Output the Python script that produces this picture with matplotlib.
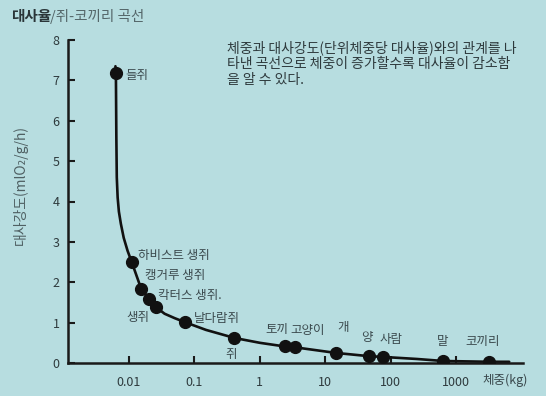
import numpy as np
import matplotlib
matplotlib.use("Agg")
import matplotlib.pyplot as plt

plt.rcParams['font.family'] = ['Noto Sans CJK KR', 'DejaVu Sans']

# 곡선
curve_x = [0.0062, 0.0063, 0.0064, 0.0065, 0.0067, 0.0070, 0.0075, 0.0083, 0.0095, 0.011,
           0.0154, 0.0205, 0.0255, 0.035, 0.05, 0.072, 0.15, 0.41, 1.0, 2.4, 3.4,
           14.5, 46, 77, 250, 635, 3200, 6500]
curve_y = [7.35, 7.18, 5.6, 4.6, 4.1, 3.75, 3.45, 3.1, 2.78, 2.5,
           1.83, 1.58, 1.39, 1.22, 1.11, 1.01, 0.82, 0.62, 0.5, 0.41, 0.39,
           0.25, 0.17, 0.15, 0.1, 0.05, 0.03, 0.03]

# 동물 점
animals = ['들쥐', '하비스트 생쥐', '캥거루 생쥐', '칵터스 생쥐.', '생쥐', '날다람쥐', '쥐',
           '토끼', '고양이', '개', '양', '사람', '말', '코끼리']
mass_kg = [0.0063, 0.011, 0.0154, 0.0205, 0.0255, 0.072, 0.41, 2.4, 3.4, 14.5, 46, 77, 635, 3200]
rate = [7.18, 2.5, 1.83, 1.58, 1.39, 1.01, 0.62, 0.41, 0.39, 0.25, 0.17, 0.15, 0.05, 0.03]

xticks = [0.01, 0.1, 1, 10, 100, 1000]
xtick_labels = ['0.01', '0.1', '1', '10', '100', '1000']
yticks = [0, 1, 2, 3, 4, 5, 6, 7, 8]

# 라벨 위치 (픽셀 오프셋)
offsets = [(9, -2), (6, 7), (4, 14), (9, 4), (-29, -11), (9, 4), (-9, -17),
           (-19, 17), (-4, 17), (2, 25), (-7, 19), (-4, 17), (-6, 19), (-24, 20)]

bg = '#b7dde0'
txt = '#3b4a4e'

W, H = 546, 396
fig = plt.figure(figsize=(W / 100, H / 100), dpi=100)
fig.patch.set_facecolor(bg)
ax = fig.add_axes([68 / W, 33 / H, 455 / W, 323 / H])
ax.set_facecolor(bg)

ax.set_xscale('log')
ax.set_xlim(10 ** -2.933, 10 ** 4.024)
ax.set_ylim(0, 8)

ax.plot(curve_x, curve_y, color='#111111', lw=1.9, solid_capstyle='round',
        solid_joinstyle='round', zorder=2)
ax.plot(mass_kg, rate, 'o', color='#111111', ms=8.5, zorder=3)

for name, x, y, off in zip(animals, mass_kg, rate, offsets):
    ax.annotate(name, (x, y), xytext=off, textcoords='offset pixels',
                ha='left', va='center', fontsize=9, color=txt)

for s in ['top', 'right']:
    ax.spines[s].set_visible(False)
for s in ['left', 'bottom']:
    ax.spines[s].set_linewidth(1.8)
    ax.spines[s].set_color('#1a1a1a')

ax.set_xticks(xticks)
ax.set_xticklabels(xtick_labels)
ax.minorticks_off()
ax.set_yticks(yticks)
ax.tick_params(direction='in', length=5, width=1.5, colors='#1a1a1a',
               labelcolor='#2e3a3d', labelsize=9)
ax.tick_params(axis='x', pad=9)
ax.tick_params(axis='y', pad=6)

fig.text(482 / W, 1 - 380 / H, '체중(kg)', fontsize=9, color=txt, va='center')
fig.text(20 / W, 1 - 185 / H, '대사강도(mlO₂/g/h)', rotation=90, fontsize=10,
         color='#4f6063', ha='center', va='center')

fig.text(11 / W, 1 - 16 / H, '대사율', fontsize=10.5, fontweight='bold', color='#2a3538', va='center')
fig.text(50 / W, 1 - 16 / H, '/쥐-코끼리 곡선', fontsize=10.5, color='#55676a', va='center')

desc = ['체중과 대사강도(단위체중당 대사율)와의 관계를 나',
        '타낸 곡선으로 체중이 증가할수록 대사율이 감소함',
        '을 알 수 있다.']
for i, line in enumerate(desc):
    fig.text(227 / W, 1 - (48 + 16 * i) / H, line, fontsize=10, color='#2e3a3d', va='center')

fig.savefig('out.png', dpi=100, facecolor=bg)
